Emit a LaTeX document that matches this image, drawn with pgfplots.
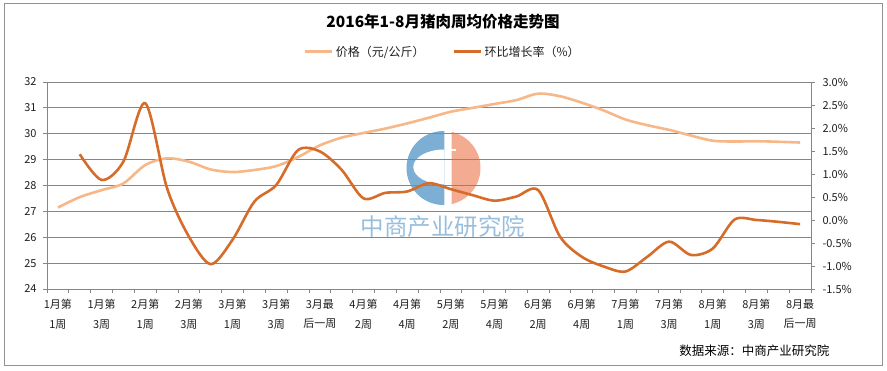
\documentclass[border=0pt]{standalone}
\usepackage{fontspec}
\setmainfont{Noto Sans CJK SC}
\usepackage{pgfplots}
\pgfplotsset{compat=1.18}
\definecolor{pricec}{RGB}{246,183,137}
\definecolor{ratec}{RGB}{214,108,42}
\definecolor{gridc}{RGB}{134,134,134}
\definecolor{logoblue}{RGB}{125,175,212}
\definecolor{logosalmon}{RGB}{243,171,146}
\definecolor{textc}{RGB}{30,30,30}

\pgfplotstableread{
x y
0 27.15
1 27.55
2 27.82
3 28.08
4 28.79
5 29.05
6 28.92
7 28.62
8 28.52
9 28.60
10 28.75
11 29.10
12 29.55
13 29.85
14 30.03
15 30.20
16 30.40
17 30.62
18 30.85
19 31.00
20 31.15
21 31.30
22 31.55
23 31.45
24 31.20
25 30.90
26 30.55
27 30.33
28 30.15
29 29.93
30 29.73
31 29.70
32 29.71
33 29.69
34 29.66
}\pricetable

\pgfplotstableread{
x y
1 1.43
2 0.87
3 1.27
4 2.54
5 0.69
6 -0.36
7 -0.96
8 -0.43
9 0.40
10 0.76
11 1.52
12 1.49
13 1.09
14 0.47
15 0.59
16 0.62
17 0.80
18 0.67
19 0.54
20 0.42
21 0.51
22 0.65
23 -0.36
24 -0.80
25 -1.01
26 -1.12
27 -0.80
28 -0.47
29 -0.76
30 -0.62
31 0.01
32 0.00
33 -0.04
34 -0.09
}\ratetable

\begin{document}
\begin{tikzpicture}
\useasboundingbox (0pt,0pt) rectangle (887pt,371pt);
\draw[gridc!90, line width=0.9pt] (4pt,6pt) rectangle (882pt,368pt);
\node[font=\fontsize{15.5}{18}\selectfont\bfseries, text=black] at (443pt,349pt) {2016年1-8月猪肉周均价格走势图};
% watermark logo
\begin{scope}
  \clip (400pt,150pt) rectangle (444.3pt,250pt);
  \fill[logoblue] (443.5pt,203pt) circle (37pt);
  \fill[white] (444.3pt,204pt) ellipse (31pt and 17.5pt);
\end{scope}
\begin{scope}
  \clip (451.7pt,150pt) rectangle (490pt,250pt);
  \fill[logosalmon] (443.5pt,203pt) circle (37pt);
\end{scope}
\fill[white] (451pt,219.5pt) rectangle (456pt,221.5pt);
\node[text=logoblue!80, font=\fontsize{23.5}{24}\selectfont] at (443pt,144pt) {中商产业研究院};

\begin{axis}[
  at={(47pt,82pt)}, anchor=south west, scale only axis,
  width=764pt, height=207pt,
  xmin=-0.5, xmax=34.5, ymin=24, ymax=32,
  axis x line*=bottom, axis y line*=left,
  axis line style={gridc, line width=0.8pt},
  ytick={24,...,32}, ymajorgrids,
  grid style={gridc, line width=0.8pt},
  xtick={0,2,...,34},
  xticklabels={{1月第\\1周},{1月第\\3周},{2月第\\1周},{2月第\\3周},{3月第\\1周},{3月第\\3周},{3月最\\后一周},{4月第\\2周},{4月第\\4周},{5月第\\2周},{5月第\\4周},{6月第\\2周},{6月第\\4周},{7月第\\1周},{7月第\\3周},{8月第\\1周},{8月第\\3周},{8月最\\后一周}},
  minor xtick={-0.5,0.5,...,34.5},
  tick align=outside, major tick length=4pt, minor tick length=4pt,
  tick style={gridc, line width=0.8pt},
  major x tick style={draw=none},
  xticklabel style={align=center, font=\fontsize{11}{19.5}\selectfont, text=textc, yshift=-3pt},
  yticklabel style={font=\fontsize{11}{13}\selectfont, text=textc, xshift=-3pt},
  /pgf/number format/assume math mode=true,
  clip=false,
]
\addplot[pricec, line width=2.6pt, smooth] table[x=x,y=y] {\pricetable};
\end{axis}

\begin{axis}[
  at={(47pt,82pt)}, anchor=south west, scale only axis,
  width=764pt, height=207pt,
  xmin=-0.5, xmax=34.5, ymin=-1.5, ymax=3,
  axis x line=none, axis y line*=right,
  axis line style={gridc, line width=0.8pt},
  ytick={-1.5,-1,...,3},
  tick align=outside, major tick length=4pt,
  tick style={gridc, line width=0.8pt},
  /pgf/number format/assume math mode=true,
  yticklabel={\pgfmathprintnumber[fixed,fixed zerofill,precision=1]{\tick}\%},
  yticklabel style={anchor=west, font=\fontsize{11}{13}\selectfont, text=textc, xshift=4pt},
  legend style={at={(0.518,1.145)}, anchor=center, draw=none, fill=none,
    legend columns=2, font=\fontsize{12}{14}\selectfont, text=textc,
    /tikz/every even column/.append style={column sep=26pt}},
  legend image code/.code={\draw[#1, line width=3pt] (0pt,0pt) -- (27pt,0pt);},
  clip=false,
]
\addlegendimage{pricec, line width=3pt}
\addlegendentry{价格（元/公斤）}
\addplot[ratec, line width=2.6pt, smooth] table[x=x,y=y] {\ratetable};
\addlegendentry{环比增长率（\%）}
\end{axis}

\node[anchor=east, font=\fontsize{12.5}{14}\selectfont, text=black] at (833pt,20pt) {数据来源：中商产业研究院};
\end{tikzpicture}
\end{document}
